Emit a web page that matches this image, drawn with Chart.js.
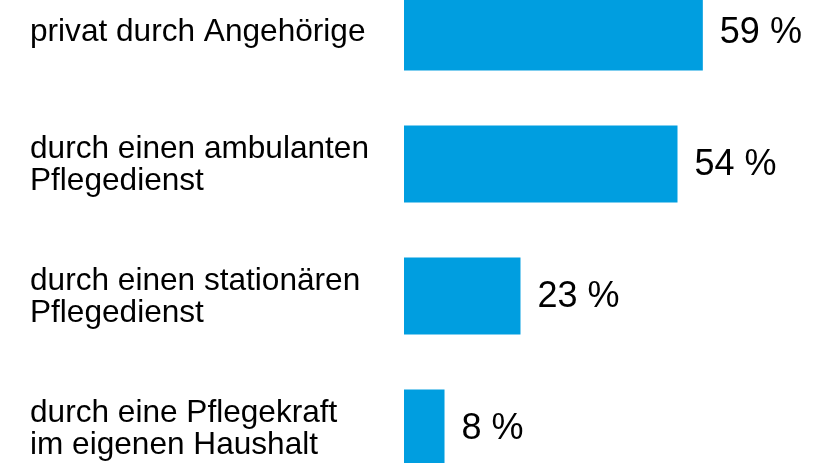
<!DOCTYPE html>
<html>
<head>
<meta charset="utf-8">
<script src="https://cdn.jsdelivr.net/npm/chart.js@4"></script>
<style>
  html, body { margin: 0; padding: 0; background: #fff; overflow: hidden; }
  #wrap { width: 833px; height: 463px; overflow: hidden; position: relative; }
  #box { position: absolute; left: 0; top: -34px; width: 833px; height: 528px; }
</style>
</head>
<body>
<div id="wrap"><div id="box"><canvas id="chart"></canvas></div></div>
<script>
// categories (multi-line labels) and shares in percent
const categories = [
    ['privat durch Angehörige'],
    ['durch einen ambulanten', 'Pflegedienst'],
    ['durch einen stationären', 'Pflegedienst'],
    ['durch eine Pflegekraft', 'im eigenen Haushalt']
];
const values = [59, 54, 23, 8];

const barColor = '#009ee0';

// draws category text on the left and value text behind each bar
const labelPlugin = {
    id: 'labels',
    afterDatasetsDraw(chart) {
        const ctx = chart.ctx;
        const meta = chart.getDatasetMeta(0);
        ctx.save();
        ctx.fillStyle = '#000';
        ctx.textBaseline = 'middle';
        meta.data.forEach((bar, i) => {
            // category label
            ctx.font = '31.6px "Liberation Sans", Arial, sans-serif';
            ctx.textAlign = 'left';
            const lines = categories[i];
            const lh = 32;
            const y0 = bar.y + (lines.length > 1 ? 1.5 : 0) - (lines.length - 1) * lh / 2;
            lines.forEach((line, j) => ctx.fillText(line, 30, y0 + j * lh));
            // value label
            ctx.font = '36px "Liberation Sans", Arial, sans-serif';
            ctx.fillText(values[i] + ' %', bar.x + 17, bar.y + 1);
        });
        ctx.restore();
    }
};

new Chart(document.getElementById('chart'), {
    type: 'bar',
    data: {
        labels: categories.map(c => c.join(' ')),
        datasets: [{
            data: values,
            backgroundColor: barColor,
            borderWidth: 0,
            barPercentage: 0.585,
            categoryPercentage: 1
        }]
    },
    options: {
        indexAxis: 'y',
        responsive: true,
        maintainAspectRatio: false,
        animation: false,
        layout: { padding: { left: 404, right: 0, top: 0, bottom: 0 } },
        scales: {
            x: { display: false, min: 0, max: 84.7 },
            y: { display: false }
        },
        plugins: {
            legend: { display: false },
            tooltip: { enabled: false }
        }
    },
    plugins: [labelPlugin]
});
</script>
</body>
</html>
